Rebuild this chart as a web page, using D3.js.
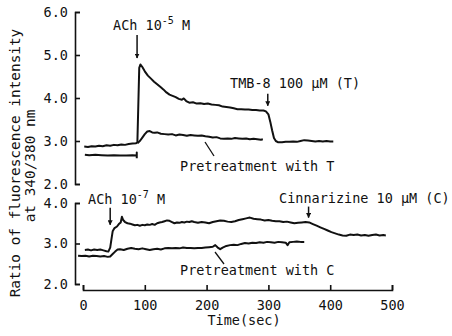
<!DOCTYPE html>
<html>
<head>
<meta charset="utf-8">
<style>
  body { margin: 0; background: #fff; }
  svg { display: block; }
  text { font-family: "DejaVu Sans Mono", "Liberation Mono", monospace; fill: #111; }
</style>
</head>
<body>
<svg width="452" height="336"></svg>
<script src="https://cdn.jsdelivr.net/npm/d3@7/dist/d3.min.js"></script>
<script>

// ---- data: [time (sec), ratio 340/380] ----
var achHighTrace = [
  [2,2.87],[8,2.86],[14,2.88],[20,2.87],[26,2.89],[32,2.88],[38,2.90],[44,2.89],[50,2.91],[56,2.90],
  [62,2.92],[68,2.91],[74,2.93],[80,2.94],[86,2.95],[88,2.97],[91,4.70],[93,4.78],[96,4.72],[100,4.62],
  [105,4.52],[110,4.45],[115,4.38],[120,4.32],[125,4.26],[130,4.20],[135,4.13],[140,4.08],[145,4.05],
  [150,4.02],[155,3.98],[160,3.96],[163,3.99],[167,3.93],[172,3.89],[178,3.90],[184,3.87],[190,3.88],
  [196,3.86],[202,3.87],[208,3.85],[214,3.84],[220,3.83],[226,3.80],[232,3.79],[238,3.78],[244,3.76],
  [250,3.74],[256,3.74],[262,3.73],[268,3.73],[274,3.72],[280,3.72],[286,3.71],[292,3.71],[296,3.69],
  [300,3.62],[303,3.45],[306,3.25],[309,3.07],[312,3.00],[316,2.97],[322,2.97],[328,2.98],[334,2.98],
  [340,2.99],[346,2.98],[352,3.00],[358,3.02],[364,3.01],[370,3.00],[376,2.99],[382,3.00],[388,2.99],
  [394,3.00],[400,2.99],[405,2.99]
];
var pretreatTBase = [
  [3,2.68],[10,2.67],[20,2.68],[30,2.67],[40,2.66],[50,2.67],[60,2.66],[70,2.66],[80,2.67],[87,2.66],
  [87,2.73],[87,2.60]
];
var pretreatT = [
  [88,2.95],[92,3.00],[96,3.08],[100,3.16],[104,3.22],[108,3.23],[112,3.20],[116,3.19],[120,3.20],
  [126,3.17],[132,3.16],[138,3.15],[144,3.16],[150,3.13],[156,3.15],[162,3.14],[168,3.12],[174,3.14],
  [180,3.13],[186,3.12],[192,3.13],[198,3.11],[204,3.10],[210,3.08],[216,3.09],[222,3.06],[228,3.05],
  [234,3.06],[240,3.05],[246,3.07],[252,3.06],[258,3.05],[264,3.06],[270,3.04],[276,3.05],[282,3.04],
  [288,3.03],[291,3.04]
];
var achLowTrace = [
  [3,2.84],[8,2.85],[13,2.83],[18,2.85],[23,2.84],[28,2.85],[33,2.83],[38,2.81],[41,2.80],[44,2.90],
  [46,3.10],[48,3.30],[51,3.38],[55,3.42],[58,3.48],[61,3.52],[63,3.66],[65,3.58],[68,3.53],[72,3.50],
  [76,3.49],[80,3.47],[84,3.45],[88,3.46],[92,3.44],[96,3.46],[100,3.45],[104,3.47],[108,3.46],[112,3.48],
  [116,3.46],[120,3.50],[124,3.52],[128,3.53],[132,3.55],[136,3.57],[140,3.56],[144,3.53],[148,3.50],
  [152,3.52],[156,3.51],[160,3.53],[164,3.52],[168,3.54],[172,3.53],[176,3.55],[180,3.53],[186,3.51],
  [192,3.53],[198,3.52],[204,3.50],[210,3.53],[216,3.55],[222,3.57],[228,3.56],[234,3.54],[240,3.53],
  [246,3.55],[252,3.58],[258,3.60],[264,3.62],[270,3.64],[276,3.61],[282,3.60],[288,3.59],[294,3.57],
  [300,3.58],[306,3.56],[312,3.55],[318,3.55],[324,3.53],[330,3.54],[336,3.52],[342,3.50],[348,3.51],
  [354,3.52],[360,3.53],[366,3.52],[372,3.48],[378,3.44],[384,3.40],[390,3.36],[396,3.32],[402,3.28],
  [408,3.25],[414,3.22],[420,3.20],[426,3.19],[432,3.22],[438,3.21],[444,3.22],[450,3.20],[456,3.21],
  [462,3.19],[468,3.21],[474,3.22],[480,3.20],[486,3.21],[490,3.20]
];
var pretreatC = [
  [-8,2.70],[-2,2.69],[4,2.70],[10,2.68],[16,2.70],[22,2.69],[28,2.68],[34,2.69],[40,2.67],[44,2.68],
  [48,2.74],[52,2.80],[56,2.85],[60,2.86],[66,2.84],[72,2.87],[78,2.89],[84,2.87],[90,2.86],[96,2.88],
  [102,2.86],[108,2.84],[114,2.86],[120,2.87],[126,2.85],[132,2.88],[138,2.89],[144,2.88],[150,2.89],
  [156,2.88],[162,2.90],[168,2.89],[174,2.89],[180,2.88],[186,2.89],[192,2.89],[198,2.90],[204,2.91],
  [210,2.92],[214,2.96],[218,2.90],[222,2.86],[226,2.90],[232,2.94],[238,2.96],[244,2.97],[250,2.96],
  [256,2.99],[262,3.01],[268,3.00],[274,3.02],[280,3.01],[286,3.03],[292,3.02],[298,3.04],[304,3.03],
  [310,3.02],[316,3.04],[322,3.03],[328,3.02],[331,2.96],[334,3.03],[340,3.04],[346,3.05],[352,3.04],
  [358,3.04]
];

var xTicks = [0, 100, 200, 300, 400, 500];
var topTicks = [2, 3, 4, 5, 6];
var bottomTicks = [2, 3, 4];

// arrows: time, ratio at the tip
var topArrows = [{t: 87.5, v: 4.93, len: 23}, {t: 299, v: 3.82, len: 12}];
var bottomArrows = [{t: 44, v: 3.46, len: 17}, {t: 365, v: 3.64, len: 11}];

var svg = d3.select("svg");

var x = d3.scaleLinear().domain([0, 500]).range([83, 392]);
var yTop = d3.scaleLinear().domain([2, 6]).range([184, 12]);
var yBot = d3.scaleLinear().domain([2, 4]).range([284, 203]);

var fmt = d3.format(".1f");

// y axes (ticks point inward)
function yAxis(scale, ticks) {
  return d3.axisLeft(scale).tickValues(ticks).tickFormat(fmt)
    .tickSizeInner(-5).tickSizeOuter(-5).tickPadding(7);
}
var gyTop = svg.append("g").attr("transform", "translate(75,0)").call(yAxis(yTop, topTicks));
var gyBot = svg.append("g").attr("transform", "translate(75,0)").call(yAxis(yBot, bottomTicks));

var gx = svg.append("g").attr("transform", "translate(0,290)")
  .call(d3.axisBottom(x).tickValues(xTicks).tickFormat(d3.format("d"))
    .tickSizeInner(-5).tickSizeOuter(-5).tickPadding(10));

svg.selectAll(".domain, .tick line").attr("stroke", "#111").attr("stroke-width", 1.6);
svg.selectAll(".tick text").attr("font-size", "13.5px")
  .attr("font-family", "DejaVu Sans Mono, monospace").attr("fill", "#111");

// traces
var lineTop = d3.line().x(function(d) { return x(d[0]); }).y(function(d) { return yTop(d[1]); });
var lineBot = d3.line().x(function(d) { return x(d[0]); }).y(function(d) { return yBot(d[1]); });

[achHighTrace, pretreatTBase, pretreatT].forEach(function(s) {
  svg.append("path").datum(s).attr("fill", "none").attr("stroke", "#111")
    .attr("stroke-width", 2).attr("stroke-linejoin", "round").attr("d", lineTop);
});
[achLowTrace, pretreatC].forEach(function(s) {
  svg.append("path").datum(s).attr("fill", "none").attr("stroke", "#111")
    .attr("stroke-width", 2).attr("stroke-linejoin", "round").attr("d", lineBot);
});

// arrows
svg.append("defs").append("marker")
  .attr("id", "head").attr("viewBox", "0 0 10 10").attr("refX", 9).attr("refY", 5)
  .attr("markerWidth", 5).attr("markerHeight", 5).attr("markerUnits", "userSpaceOnUse")
  .attr("orient", "auto")
  .append("path").attr("d", "M0,0L10,5L0,10z").attr("fill", "#111");

function drawArrows(list, scale) {
  list.forEach(function(a) {
    var tipY = scale(a.v);
    svg.append("line")
      .attr("x1", x(a.t)).attr("x2", x(a.t))
      .attr("y1", tipY - a.len).attr("y2", tipY)
      .attr("stroke", "#111").attr("stroke-width", 1.5)
      .attr("marker-end", "url(#head)");
  });
}
drawArrows(topArrows, yTop);
drawArrows(bottomArrows, yBot);

// annotation text
var fs = "13.5px";
function label(xp, yp, str) {
  return svg.append("text").attr("x", xp).attr("y", yp).attr("font-size", fs).text(str);
}
var t1 = svg.append("text").attr("x", 113).attr("y", 30).attr("font-size", fs);
t1.append("tspan").text("ACh 10");
t1.append("tspan").attr("dy", -6).attr("font-size", "10px").text("-5");
t1.append("tspan").attr("dy", 6).text(" M");

label(230, 88, "TMB-8 100 \u00b5M (T)");
label(180, 171, "Pretreatment with T");

var t2 = svg.append("text").attr("x", 88).attr("y", 204).attr("font-size", fs);
t2.append("tspan").text("ACh 10");
t2.append("tspan").attr("dy", -6).attr("font-size", "10px").text("-7");
t2.append("tspan").attr("dy", 6).text(" M");

label(279, 203, "Cinnarizine 10 \u00b5M (C)");
label(180, 275, "Pretreatment with C");

// leader lines
svg.append("line").attr("x1", 205).attr("y1", 142).attr("x2", 214).attr("y2", 156)
  .attr("stroke", "#111").attr("stroke-width", 1.3);
svg.append("line").attr("x1", 215).attr("y1", 252).attr("x2", 224).attr("y2", 264)
  .attr("stroke", "#111").attr("stroke-width", 1.3);

// axis titles
svg.append("text").attr("transform", "translate(244,325)")
  .attr("text-anchor", "middle").attr("font-size", fs).text("Time(sec)");
svg.append("text").attr("transform", "translate(20,163) rotate(-90)")
  .attr("text-anchor", "middle").attr("font-size", "14.4px").text("Ratio of fluorescence intensity");
svg.append("text").attr("transform", "translate(35,166) rotate(-90)")
  .attr("text-anchor", "middle").attr("font-size", "14.4px").text("at 340/380 nm");

</script>
</body>
</html>
